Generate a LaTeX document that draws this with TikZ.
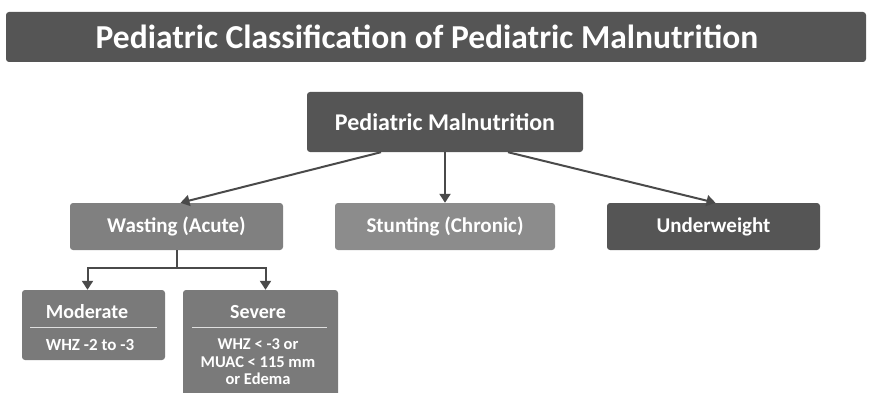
\documentclass[tikz,border=0pt]{standalone}
\usepackage{fontspec}
\setmainfont{Carlito}
\usepackage{xcolor}
\usepackage{tikz}
\usetikzlibrary{arrows.meta}

\definecolor{darkbox}{HTML}{555555}
\definecolor{midbox}{HTML}{808080}
\definecolor{lightbox}{HTML}{8C8C8C}
\definecolor{subbox}{HTML}{7A7A7A}
\definecolor{linkgray}{HTML}{4A4A4A}

\begin{document}
\begin{tikzpicture}[x=1pt, y=-1pt,
    box/.style={rectangle, rounded corners=3pt, text=white, font=\bfseries, inner sep=0pt},
    link/.style={draw=linkgray, line width=2pt, -{Triangle[width=11pt,length=9pt]}},
    sep/.style={draw=white!75!gray, line width=0.6pt}]
    \useasboundingbox (0,0) rectangle (872,393);

    % --- Title ---
    \node[box, fill=darkbox, minimum width=860pt, minimum height=50pt] (title) at (436,37) {};
    \node[text=white, font=\bfseries\fontsize{33.5}{38}\selectfont] (titletext) at (427,37) {Pediatric Classification of Pediatric Malnutrition};

    % --- Top level ---
    \node[box, fill=darkbox, minimum width=276pt, minimum height=60pt, font=\bfseries\fontsize{24}{28}\selectfont] (malnut) at (445,122) {Pediatric Malnutrition};

    % --- Second level ---
    \node[box, fill=midbox, minimum width=213pt, minimum height=47pt, font=\bfseries\fontsize{21}{25}\selectfont] (wasting) at (176.5,226.5) {Wasting (Acute)};
    \node[box, fill=lightbox, minimum width=220pt, minimum height=47pt, font=\bfseries\fontsize{21}{25}\selectfont] (stunting) at (445,226.5) {Stunting (Chronic)};
    \node[box, fill=darkbox, minimum width=213pt, minimum height=47pt, font=\bfseries\fontsize{21}{25}\selectfont] (underweight) at (713.5,226.5) {Underweight};

    \draw[link] ([xshift=-64pt]malnut.south) -- ([xshift=4pt]wasting.north);
    \draw[link] (malnut.south) -- (stunting.north);
    \draw[link] ([xshift=63pt]malnut.south) -- ([xshift=2pt]underweight.north);

    % --- Wasting subtypes ---
    \node[box, fill=subbox, minimum width=143pt, minimum height=70pt] (moderate) at (93.5,325) {};
    \node[box, fill=subbox, minimum width=155pt, minimum height=110pt] (severe) at (260.5,345) {};

    \node[text=white, font=\bfseries\fontsize{20}{24}\selectfont] (modtitle) at (87,312) {Moderate};
    \coordinate (modl) at (30,327);
    \coordinate (modr) at (157,327);
    \draw[sep] (modl) -- (modr);
    \node[text=white, font=\bfseries\fontsize{17}{20}\selectfont] (modtext) at (90,345) {WHZ -2 to -3};

    \node[text=white, font=\bfseries\fontsize{20}{24}\selectfont] (sevtitle) at (258,312) {Severe};
    \coordinate (sevl) at (192,327);
    \coordinate (sevr) at (327,327);
    \draw[sep] (sevl) -- (sevr);
    \node[text=white, align=center, font=\bfseries\fontsize{16.5}{17.5}\selectfont] (sevtext) at (258,362) {WHZ < -3 or\\MUAC < 115 mm\\or Edema};

    \draw[linkgray, line width=2pt] (wasting.south) -- ++(0,18) coordinate (split);
    \draw[link] (split) -| ([xshift=-6pt]moderate.north);
    \draw[link] (split) -| ([xshift=5pt]severe.north);
\end{tikzpicture}
\end{document}
